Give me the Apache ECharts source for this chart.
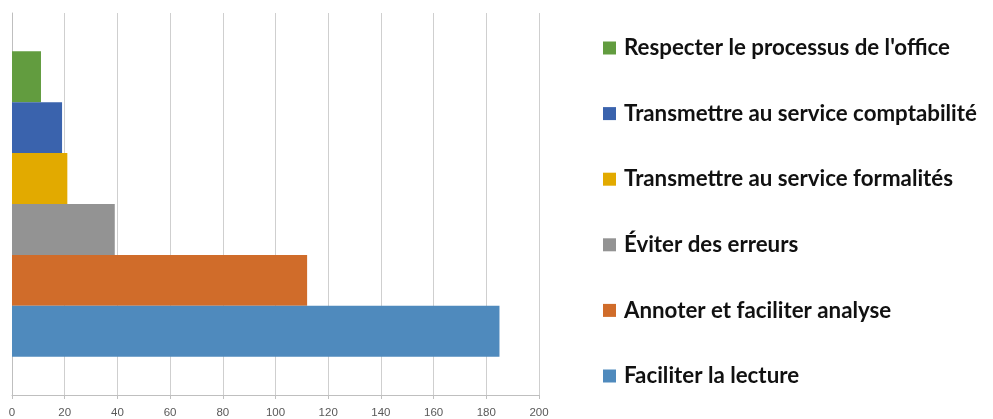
<!DOCTYPE html>
<html>
<head>
<meta charset="utf-8">
<script src="https://cdn.jsdelivr.net/npm/echarts@6/dist/echarts.min.js"></script>
<style>html,body{margin:0;padding:0;background:#fff;}#c{width:993px;height:419px;}</style>
</head>
<body>
<div id="c"></div>
<script>
const seriesNames = [
  "Respecter le processus de l'office",
  "Transmettre au service comptabilité",
  "Transmettre au service formalités",
  "Éviter des erreurs",
  "Annoter et faciliter analyse",
  "Faciliter la lecture"
];
const seriesValues = [11, 19, 21, 39, 112, 185];
const seriesColors = ["#629c3f", "#3a63ad", "#e2aa00", "#939393", "#d06c2a", "#4f8abd"];
const categories = [""];
const xTicks = { min: 0, max: 200, interval: 20 };

const chart = echarts.init(document.getElementById('c'));
chart.setOption({
  animation: false,
  grid: { left: 12, right: 454, top: 13, bottom: 20, containLabel: false },
  legend: {
    data: seriesNames,
    orient: 'vertical',
    left: 603,
    top: 36,
    padding: 0,
    itemWidth: 13,
    itemHeight: 13,
    itemGap: 41.6,
    icon: 'rect',
    textStyle: { fontFamily: 'Lato', fontWeight: 'bold', fontSize: 22.3, color: '#111', lineHeight: 24, padding: [0,0,0,3] }
  },
  xAxis: {
    type: 'value', min: xTicks.min, max: xTicks.max, interval: xTicks.interval,
    axisLine: { show: true, lineStyle: { color: '#bfbfbf' } },
    axisTick: { show: true, length: 4, lineStyle: { color: '#bfbfbf' } },
    axisLabel: { color: '#595959', fontSize: 11.5, fontFamily: 'Liberation Sans', margin: 12 },
    splitLine: { show: true, lineStyle: { color: '#cfcfcf' } }
  },
  yAxis: {
    type: 'category', data: categories, inverse: true,
    axisLine: { show: true, lineStyle: { color: '#bfbfbf' } },
    axisTick: { show: false },
    axisLabel: { show: false }
  },
  series: seriesNames.map((n, i) => ({
    name: n, type: 'bar', data: [seriesValues[i]],
    itemStyle: { color: seriesColors[i] },
    barGap: 0, barCategoryGap: '20%'
  }))
});
</script>
</body>
</html>
